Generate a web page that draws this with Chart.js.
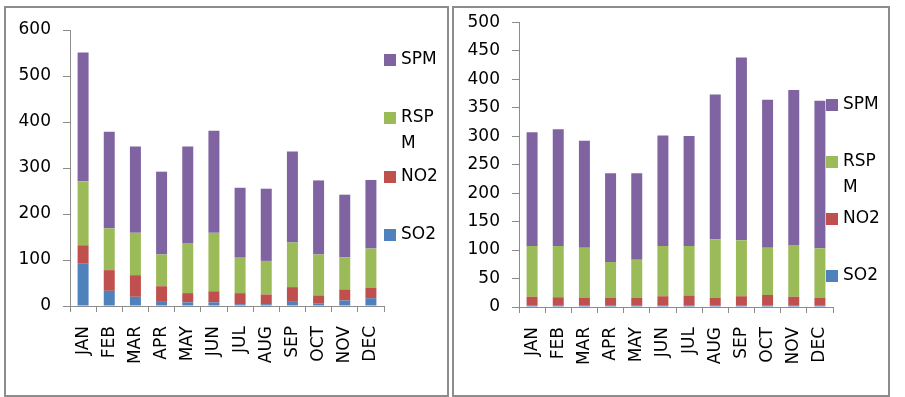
<!DOCTYPE html>
<html>
<head>
<meta charset="utf-8">
<script src="https://cdn.jsdelivr.net/npm/chart.js@4"></script>
<style>
  body { margin: 0; background: #fff; }
  #wrap { position: relative; width: 905px; height: 397px; overflow: hidden; }
  .panel { position: absolute; border: 2px solid #8c8c8c; box-sizing: border-box; }
  .box { position: absolute; top: 0; height: 397px; }
</style>
</head>
<body>
<div id="wrap">
  <div class="panel" style="left:4px;top:6px;width:445px;height:391px;"></div>
  <div class="panel" style="left:452px;top:6px;width:438px;height:391px;"></div>
  <div class="box" style="left:0;width:450px;"><canvas id="left-chart"></canvas></div>
  <div class="box" style="left:450px;width:455px;"><canvas id="right-chart"></canvas></div>
</div>
<script>
const months = ['JAN', 'FEB', 'MAR', 'APR', 'MAY', 'JUN', 'JUL', 'AUG', 'SEP', 'OCT', 'NOV', 'DEC'];

// left panel
const so2A = [93, 33, 20, 9, 8, 8, 4, 4, 9, 5, 12, 17];
const no2A = [39, 45, 47, 34, 20, 24, 24, 21, 32, 18, 24, 23];
const rspmA = [139, 91, 92, 69, 109, 127, 77, 73, 97, 89, 70, 85];
const spmA = [280, 210, 188, 180, 210, 222, 152, 157, 198, 161, 136, 149];

// right panel
const so2B = [3, 3, 3, 3, 3, 3, 3, 3, 3, 3, 3, 3];
const no2B = [15, 14, 13, 13, 13, 16, 17, 13, 16, 18, 15, 13];
const rspmB = [89, 90, 88, 63, 67, 88, 87, 103, 98, 83, 91, 87];
const spmB = [200, 205, 188, 156, 152, 194, 193, 254, 321, 260, 272, 259];

const colors = ['#4F81BD', '#C0504D', '#9BBB59', '#8064A2'];
const names = ['SO2', 'NO2', 'RSPM', 'SPM'];
const font = 'DejaVu Sans';

const wrapText = (ctx, text, maxW) => {
  const lines = [];
  let line = '';
  for (const ch of text) {
    if (line && ctx.measureText(line + ch).width > maxW) {
      lines.push(line);
      line = ch;
    } else {
      line += ch;
    }
  }
  lines.push(line);
  return lines;
};

const makeLegend = (items) => ({
  id: 'sideLegend',
  afterDraw(chart) {
    const { ctx } = chart;
    ctx.save();
    ctx.font = `17px "${font}"`;
    ctx.textBaseline = 'middle';
    items.forEach((it) => {
      const ds = chart.data.datasets[it.index];
      ctx.fillStyle = ds.backgroundColor;
      ctx.fillRect(it.x, it.y - 6, 12, 12);
      ctx.fillStyle = '#000';
      const lines = wrapText(ctx, ds.label, it.maxW);
      lines.forEach((l, i) => ctx.fillText(l, it.x + 17, it.y + i * 26));
    });
    ctx.restore();
  },
});

const createChart = (id, series, yMax, yStep, pad, yWidth, xHeight, legendItems) => {
  const ctx = document.getElementById(id).getContext('2d');
  return new Chart(ctx, {
    type: 'bar',
    data: {
      labels: months,
      datasets: series.map((data, i) => ({
        label: names[i],
        data,
        backgroundColor: colors[i],
        borderWidth: 0,
        barPercentage: 0.42,
        categoryPercentage: 1,
      })),
    },
    options: {
      responsive: true,
      maintainAspectRatio: false,
      animation: false,
      layout: { padding: pad },
      plugins: {
        legend: { display: false },
        tooltip: { enabled: false },
      },
      scales: {
        x: {
          stacked: true,
          offset: true,
          afterFit(scale) { scale.height = xHeight; },
          border: { color: '#8c8c8c', width: 1 },
          grid: {
            offset: true,
            drawOnChartArea: false,
            tickLength: 6,
            color: '#8c8c8c',
          },
          ticks: {
            minRotation: 90,
            maxRotation: 90,
            padding: 14,
            color: '#000',
            font: { family: font, size: 17 },
          },
        },
        y: {
          stacked: true,
          min: 0,
          max: yMax,
          afterFit(scale) { scale.width = yWidth; },
          border: { color: '#8c8c8c', width: 1 },
          grid: {
            drawOnChartArea: false,
            tickLength: 7,
            color: '#8c8c8c',
          },
          ticks: {
            stepSize: yStep,
            padding: 12,
            color: '#000',
            font: { family: font, size: 17 },
          },
        },
      },
    },
    plugins: [makeLegend(legendItems)],
  });
};

createChart('left-chart', [so2A, no2A, rspmA, spmA], 600, 100,
  { left: 0, right: 66, top: 30, bottom: 0 }, 70, 91,
  [
    { index: 3, x: 384, y: 60, maxW: 44 },
    { index: 2, x: 384, y: 118, maxW: 44 },
    { index: 1, x: 384, y: 177, maxW: 44 },
    { index: 0, x: 384, y: 235, maxW: 44 },
  ]);

createChart('right-chart', [so2B, no2B, rspmB, spmB], 500, 50,
  { left: 0, right: 72, top: 21, bottom: 0 }, 69, 90,
  [
    { index: 3, x: 376, y: 105, maxW: 44 },
    { index: 2, x: 376, y: 162, maxW: 44 },
    { index: 1, x: 376, y: 219, maxW: 44 },
    { index: 0, x: 376, y: 276, maxW: 44 },
  ]);
</script>
</body>
</html>
